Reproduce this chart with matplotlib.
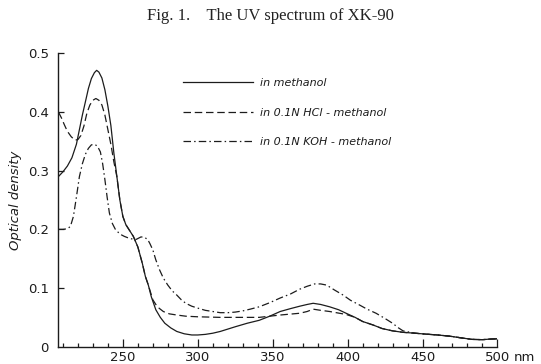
import matplotlib
matplotlib.use("Agg")
import matplotlib.pyplot as plt

# ---- data ----
nm_methanol = [207, 210, 213, 216, 219, 221, 223, 225.5, 227, 229, 231, 232.5, 234, 236, 238,
               240, 242, 244, 246, 248, 250, 252, 254, 257, 260, 263, 265, 267, 269, 272, 275,
               278, 282, 286, 291, 296, 300, 305, 310, 315, 320, 325, 333, 341, 348, 355, 362,
               368, 373, 377, 382, 388, 394, 399, 405, 410, 417, 423, 430, 437, 445, 452, 460,
               468, 476, 483, 490, 495, 500]
od_methanol = [0.290, 0.298, 0.308, 0.322, 0.345, 0.370, 0.395, 0.423, 0.440, 0.457, 0.467, 0.471,
               0.468, 0.458, 0.438, 0.410, 0.377, 0.330, 0.290, 0.250, 0.222, 0.208, 0.200, 0.188,
               0.170, 0.142, 0.120, 0.105, 0.085, 0.063, 0.050, 0.040, 0.032, 0.026, 0.022, 0.020,
               0.020, 0.021, 0.023, 0.026, 0.030, 0.034, 0.040, 0.045, 0.052, 0.060, 0.065, 0.069,
               0.072, 0.074, 0.072, 0.068, 0.063, 0.057, 0.050, 0.043, 0.037, 0.031, 0.027, 0.0245,
               0.023, 0.0215, 0.020, 0.018, 0.015, 0.0125, 0.012, 0.013, 0.0135]

nm_hcl = [207, 209, 211, 213, 215.5, 218, 220, 222, 224, 226, 228, 230, 232, 234, 236, 238, 240,
          242, 244, 246, 248, 250, 252, 254, 257, 260, 263, 265, 267, 270, 273, 277, 281, 286, 292,
          300, 315, 330, 341, 355, 368, 373, 377, 382, 388, 399, 405, 410, 417, 423, 430, 437, 445,
          452, 460, 468, 476, 483, 490, 495, 500]
od_hcl = [0.400, 0.390, 0.378, 0.367, 0.358, 0.352, 0.353, 0.360, 0.376, 0.398, 0.412, 0.420, 0.423,
          0.420, 0.412, 0.395, 0.370, 0.345, 0.315, 0.290, 0.250, 0.222, 0.208, 0.200, 0.188, 0.170,
          0.142, 0.120, 0.105, 0.080, 0.068, 0.060, 0.056, 0.054, 0.052, 0.051, 0.050, 0.050, 0.050,
          0.054, 0.057, 0.060, 0.064, 0.062, 0.060, 0.055, 0.050, 0.043, 0.037, 0.031, 0.027, 0.0245,
          0.023, 0.0215, 0.020, 0.018, 0.015, 0.0125, 0.012, 0.013, 0.0135]

nm_koh = [207, 210, 213, 215, 217, 219, 221, 223, 225, 227, 229, 231, 233, 235, 236.5, 238, 239.5,
          241, 243, 245, 248, 251, 255, 259, 262, 264, 266.5, 268, 270, 272, 274.5, 277, 280, 283,
          286, 289, 292, 296, 301, 305, 310, 315, 320, 325, 330, 335, 341, 348, 355, 362, 368, 373,
          378, 382, 386, 391, 397, 402, 408, 413, 419, 425, 430, 434, 437, 445, 452, 460, 468, 476,
          483, 490, 495, 500]
od_koh = [0.200, 0.200, 0.201, 0.205, 0.222, 0.255, 0.290, 0.312, 0.328, 0.338, 0.344, 0.345, 0.342,
          0.332, 0.312, 0.285, 0.255, 0.228, 0.210, 0.200, 0.192, 0.188, 0.184, 0.183, 0.187, 0.187,
          0.183, 0.176, 0.165, 0.148, 0.131, 0.117, 0.105, 0.095, 0.088, 0.080, 0.074, 0.069, 0.065,
          0.062, 0.060, 0.058, 0.058, 0.059, 0.061, 0.064, 0.068, 0.075, 0.083, 0.090, 0.098, 0.103,
          0.107, 0.107, 0.105, 0.097, 0.088, 0.079, 0.071, 0.064, 0.057, 0.048, 0.040, 0.032, 0.027,
          0.023, 0.0215, 0.020, 0.018, 0.015, 0.0125, 0.012, 0.013, 0.0135]

labels = ["in methanol", "in 0.1N HCl - methanol", "in 0.1N KOH - methanol"]
xticks = [250, 300, 350, 400, 450, 500]
yticks = [0, 0.1, 0.2, 0.3, 0.4, 0.5]
ytick_labels = ["0", "0.1", "0.2", "0.3", "0.4", "0.5"]
title = "Fig. 1.    The UV spectrum of XK-90"

# ---- figure ----
ink = "#1c1c1c"
fig = plt.figure(figsize=(5.41, 3.64), dpi=100)
ax = fig.add_axes([0.108, 0.0475, 0.8115, 0.806])

l1, = ax.plot(nm_methanol, od_methanol, color=ink, lw=0.9, ls="-")
l2, = ax.plot(nm_hcl, od_hcl, color=ink, lw=0.9, ls=(0, (6, 3)))
l3, = ax.plot(nm_koh, od_koh, color=ink, lw=0.9, ls=(0, (6, 2.5, 1.2, 2.5)))

ax.set_xlim(207, 500)
ax.set_ylim(0, 0.5)
for s in ["top", "right"]:
    ax.spines[s].set_visible(False)
for s in ["left", "bottom"]:
    ax.spines[s].set_color(ink)
    ax.spines[s].set_linewidth(1.0)

ax.set_xticks(xticks)
ax.set_xticklabels([str(v) for v in xticks])
ax.set_xticks(list(range(210, 500, 10)), minor=True)
ax.set_yticks(yticks)
ax.set_yticklabels(ytick_labels)
ax.tick_params(axis="x", which="major", direction="in", length=6, width=0.9, color=ink,
               labelsize=9.5, pad=3, labelcolor=ink)
ax.tick_params(axis="x", which="minor", direction="in", length=3, width=0.9, color=ink)
ax.tick_params(axis="y", which="major", direction="in", length=4, width=0.9, color=ink,
               labelsize=9.5, pad=7, labelcolor=ink)
ax.yaxis.get_major_ticks()[0].tick1line.set_visible(False)

ax.annotate("nm", xy=(500, 0), xycoords="data", xytext=(12, -3), textcoords="offset points",
            ha="left", va="top", fontsize=9.5, color=ink)

ax.set_ylabel("Optical density", fontsize=9.5, style="italic", color=ink, labelpad=4)

ax.legend([l1, l2, l3], labels, loc="upper left", bbox_to_anchor=(0.284, 0.915), frameon=False,
          borderpad=0, borderaxespad=0,
          handlelength=6.3, handletextpad=0.6, labelspacing=1.75,
          prop={"size": 8, "style": "italic"}, labelcolor=ink)

fig.text(0.5, 0.955, title, ha="center", va="center", fontsize=12,
         family="Liberation Serif", color="#222222")

fig.savefig("out.png", dpi=100)
